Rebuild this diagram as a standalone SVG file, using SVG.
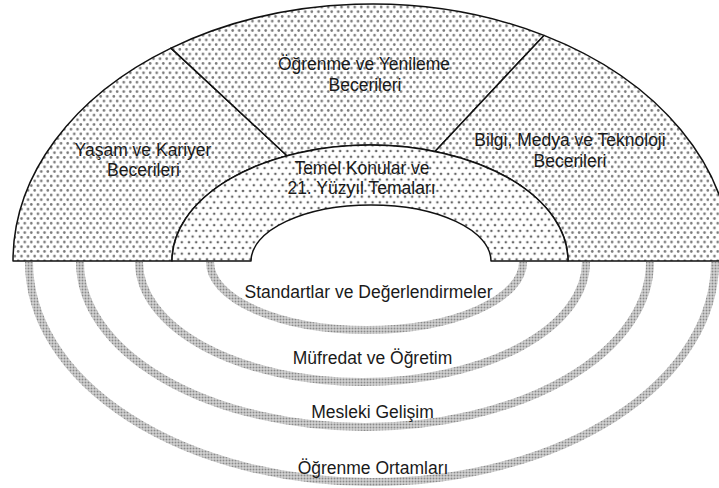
<svg xmlns="http://www.w3.org/2000/svg" width="719" height="488" viewBox="0 0 719 488">
<defs>
  <pattern id="dotsOuter" patternUnits="userSpaceOnUse" width="6.6" height="9.4">
    <rect width="6.6" height="9.4" fill="#fff"/>
    <circle cx="1.65" cy="2.35" r="1.3" fill="#777"/>
    <circle cx="4.95" cy="7.05" r="1.3" fill="#777"/>
  </pattern>
  <pattern id="dotsMid" patternUnits="userSpaceOnUse" width="7.2" height="11.4">
    <rect width="7.2" height="11.4" fill="#fff"/>
    <circle cx="1.8" cy="2.85" r="1.3" fill="#666"/>
    <circle cx="5.4" cy="8.55" r="1.3" fill="#666"/>
  </pattern>
  <pattern id="dotsFine" patternUnits="userSpaceOnUse" width="3" height="3">
    <rect width="3" height="3" fill="#e4e4e4"/>
    <rect x="0.5" y="0.5" width="2" height="2" fill="#8a8a8a"/>
  </pattern>
</defs>
<style>
  .sector { stroke: #111; stroke-width: 1.5; stroke-linejoin: round; }
  .outer { fill: url(#dotsOuter); }
  .mid { fill: url(#dotsMid); }
  .band { fill: none; stroke: url(#dotsFine); stroke-width: 8; }
  .lbl { font-family: "Liberation Sans", Arial, sans-serif; font-size: 17.5px; fill: #1a1a1a; text-anchor: middle; }
</style>
<rect width="719" height="488" fill="#fff"/>

<g id="connectors">
  <path class="band" d="M210,262 A156.5,68 0 0 0 523,262"/>
  <path class="band" d="M139,262 A223.5,120 0 0 0 586,262"/>
  <path class="band" d="M80,262 A285,165 0 0 0 650,262"/>
  <path class="band" d="M29,262 A343,220 0 0 0 715,262"/>
</g>

<g id="yasam-kariyer">
  <path class="sector outer" d="M13,261 A359,257 0 0 1 171,48.1 L287,155.7 A198,116 0 0 0 172,261 Z"/>
  <text class="lbl" x="143" y="156">Yaşam ve Kariyer</text>
  <text class="lbl" x="143.5" y="176">Becerileri</text>
</g>

<g id="ogrenme-yenileme">
  <path class="sector outer" d="M171,48.1 A359,257 0 0 1 544,35.4 L435,151.4 A198,116 0 0 0 287,155.7 Z"/>
  <text class="lbl" x="364" y="70">Öğrenme ve Yenileme</text>
  <text class="lbl" x="365" y="91">Becerileri</text>
</g>

<g id="bilgi-medya">
  <path class="sector outer" d="M544,35.4 A359,257 0 0 1 731,261 L568,261 A198,116 0 0 0 435,151.4 Z"/>
  <text class="lbl" x="570" y="146">Bilgi, Medya ve Teknoloji</text>
  <text class="lbl" x="570" y="167">Becerileri</text>
</g>

<g id="temel-konular">
  <path class="sector mid" d="M172,261 A198,116 0 0 1 568,261 L491,261 A120,56 0 0 0 251,261 Z"/>
  <text class="lbl" x="362" y="174">Temel Konular ve</text>
  <text class="lbl" x="361.5" y="194">21. Yüzyıl Temaları</text>
</g>

<g id="standartlar">
  <text class="lbl" x="368.5" y="298">Standartlar ve Değerlendirmeler</text>
</g>
<g id="mufredat">
  <text class="lbl" x="372.5" y="364">Müfredat ve Öğretim</text>
</g>
<g id="mesleki">
  <text class="lbl" x="372.5" y="418">Mesleki Gelişim</text>
</g>
<g id="ortamlar">
  <text class="lbl" x="373" y="474">Öğrenme Ortamları</text>
</g>
</svg>
